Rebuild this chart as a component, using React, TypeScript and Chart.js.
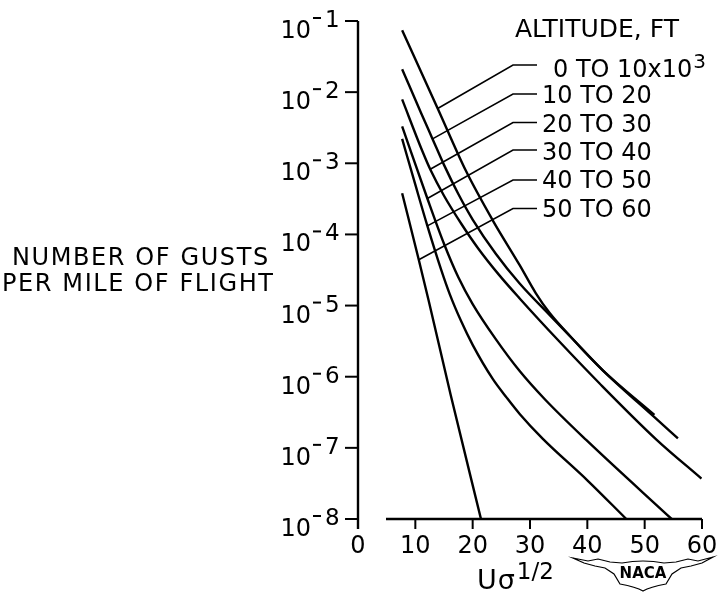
import { useEffect, useRef } from "react";
import { Chart, registerables } from "chart.js";

Chart.register(...registerables);

// ---- Data ----
const altitudeBands = ["0 TO 10x10", "10 TO 20", "20 TO 30", "30 TO 40", "40 TO 50", "50 TO 60"];

// U sigma^1/2 (x) and gusts per mile of flight (y)
const alt0to10X = [7.7, 13.9, 18.8, 23.5, 28.2, 31.0, 33.4, 37.0, 42.7, 51.7];
const alt0to10Y = [7.4e-2, 5.9e-3, 7.9e-4, 1.58e-4, 3.7e-5, 1.5e-5, 7.9e-6, 3.7e-6, 1.23e-6, 2.9e-7];

const alt10to20X = [7.7, 11.0, 13.0, 15.0, 17.5, 20.0, 24.0, 28.2, 33.4, 37.0, 42.7, 51.7, 55.8];
const alt10to20Y = [2.1e-2, 5.1e-3, 2.2e-3, 9.5e-4, 3.7e-4, 1.62e-4, 5.4e-5, 2.04e-5, 7.4e-6, 3.7e-6, 1.23e-6, 2.7e-7, 1.36e-7];

const alt20to30X = [7.7, 11.2, 12.7, 15.0, 18.1, 21.0, 24.6, 28.2, 35.0, 42.1, 52.0, 59.9];
const alt20to30Y = [7.9e-3, 1.5e-3, 7.9e-4, 3.5e-4, 1.38e-4, 6.3e-5, 2.7e-5, 1.26e-5, 3.2e-6, 8.1e-7, 1.32e-7, 3.7e-8];

const alt30to40X = [7.7, 12.1, 15.0, 17.5, 20.0, 24.0, 28.2, 32.5, 39.8, 54.7];
const alt30to40Y = [3.3e-3, 3.2e-4, 7.4e-5, 2.5e-5, 1.05e-5, 3.4e-6, 1.2e-6, 4.9e-7, 1.29e-7, 1e-8];

const alt40to50X = [7.7, 10.0, 12.1, 14.5, 16.0, 18.0, 20.0, 23.5, 26.0, 28.2, 32.2, 40.0, 46.8];
const alt40to50Y = [2.2e-3, 5.0e-4, 1.32e-4, 3.2e-5, 1.45e-5, 6.0e-6, 2.8e-6, 9.3e-7, 5.0e-7, 3.0e-7, 1.35e-7, 3.5e-8, 1e-8];

const alt50to60X = [7.7, 10.6, 12.3, 16.2, 21.45];
const alt50to60Y = [3.8e-4, 4.4e-5, 1.2e-5, 5.4e-7, 1e-8];

const seriesX = [alt0to10X, alt10to20X, alt20to30X, alt30to40X, alt40to50X, alt50to60X];
const seriesY = [alt0to10Y, alt10to20Y, alt20to30Y, alt30to40Y, alt40to50Y, alt50to60Y];

// where each label's leader line meets its curve (x value)
const leaderAnchorX = [13.9, 13.0, 12.6, 12.1, 12.1, 10.6];

const xTicks = [0, 10, 20, 30, 40, 50, 60];
const yTickExponents = [-1, -2, -3, -4, -5, -6, -7, -8];

const FONT = '"DejaVu Sans", "Liberation Sans", sans-serif';

function logInterp(xs: number[], ys: number[], x: number): number {
  for (let i = 0; i < xs.length - 1; i++) {
    if (x >= xs[i] && x <= xs[i + 1]) {
      const t = (x - xs[i]) / (xs[i + 1] - xs[i]);
      const l = Math.log10(ys[i]) + t * (Math.log10(ys[i + 1]) - Math.log10(ys[i]));
      return Math.pow(10, l);
    }
  }
  return ys[ys.length - 1];
}

const decorPlugin = {
  id: "decor",
  afterDraw(chart: any) {
    const ctx: CanvasRenderingContext2D = chart.ctx;
    const sx = chart.scales.x;
    const sy = chart.scales.y;
    const x0 = sx.getPixelForValue(0);
    const yTop = sy.getPixelForValue(1e-1);
    const yBase = sy.getPixelForValue(1e-8);
    const line = (a: number, b: number, c: number, d: number) => {
      ctx.beginPath();
      ctx.moveTo(a, b);
      ctx.lineTo(c, d);
      ctx.stroke();
    };
    ctx.save();
    ctx.strokeStyle = "#000";
    ctx.fillStyle = "#000";
    ctx.textBaseline = "alphabetic";

    // axes
    ctx.lineWidth = 2.4;
    line(x0, yTop, x0, yBase + 10);
    line(x0 + 28, yBase, sx.getPixelForValue(60), yBase);

    // x ticks + labels
    ctx.lineWidth = 2;
    ctx.font = `24px ${FONT}`;
    ctx.textAlign = "center";
    xTicks.forEach((v) => {
      const px = sx.getPixelForValue(v);
      if (v !== 0) line(px, yBase, px, yBase + 10);
      ctx.fillText(String(v), px, yBase + 34);
    });

    // y ticks + labels (10^n)
    yTickExponents.forEach((e) => {
      const py = sy.getPixelForValue(Math.pow(10, e));
      ctx.lineWidth = 2;
      line(x0 - 13, py, x0, py);
      ctx.font = `24px ${FONT}`;
      ctx.textAlign = "right";
      ctx.fillText("10", x0 - 47, py + 17);
      ctx.lineWidth = 2;
      line(x0 - 45, py - 3, x0 - 37, py - 3);
      ctx.font = `23px ${FONT}`;
      ctx.textAlign = "left";
      ctx.fillText(String(-e), x0 - 33, py + 6);
    });

    // y title
    ctx.font = `24px ${FONT}`;
    ctx.textAlign = "left";
    (ctx as any).letterSpacing = "1.6px";
    ctx.fillText("NUMBER OF GUSTS", 12, 265);
    ctx.fillText("PER MILE OF FLIGHT", 2, 291);
    (ctx as any).letterSpacing = "0px";

    // x title  U sigma ^1/2
    ctx.font = `27px ${FONT}`;
    ctx.fillText("U", 477, yBase + 70);
    const uW = ctx.measureText("U").width;
    ctx.fillText("σ", 477 + uW + 1, yBase + 70);
    const sW = ctx.measureText("σ").width;
    ctx.font = `23px ${FONT}`;
    ctx.fillText("1/2", 477 + uW + sW + 3, yBase + 60);

    // legend title and labels
    ctx.font = `25px ${FONT}`;
    ctx.fillText("ALTITUDE, FT", 515, 37);
    const rowBase = [77, 102.5, 131.5, 160, 188, 216.5];
    const rowMid = [65, 94, 122.5, 150, 180, 208.5];
    altitudeBands.forEach((txt, i) => {
      ctx.font = `24px ${FONT}`;
      const left = i === 0 ? 553 : 542;
      ctx.fillText(txt, left, rowBase[i]);
      if (i === 0) {
        const w = ctx.measureText(txt).width;
        ctx.font = `20px ${FONT}`;
        ctx.fillText("3", left + w + 1, rowBase[i] - 9);
      }
      const ax = leaderAnchorX[i];
      const apx = sx.getPixelForValue(ax);
      const apy = sy.getPixelForValue(logInterp(seriesX[i], seriesY[i], ax));
      ctx.lineWidth = 1.6;
      ctx.beginPath();
      ctx.moveTo(apx, apy);
      ctx.lineTo(513, rowMid[i]);
      ctx.lineTo(537, rowMid[i]);
      ctx.stroke();
    });

    // NACA emblem
    ctx.lineWidth = 1.2;
    ctx.beginPath();
    ctx.moveTo(573, 558);
    ctx.lineTo(588, 561);
    ctx.lineTo(598, 559);
    ctx.lineTo(610, 562);
    ctx.lineTo(622, 563);
    ctx.quadraticCurveTo(643, 559, 664, 563);
    ctx.lineTo(676, 562);
    ctx.lineTo(688, 559);
    ctx.lineTo(698, 561);
    ctx.lineTo(713, 557);
    ctx.lineTo(702, 563);
    ctx.lineTo(691, 566);
    ctx.lineTo(681, 568);
    ctx.lineTo(672, 574);
    ctx.lineTo(666, 584);
    ctx.quadraticCurveTo(650, 587, 643, 591);
    ctx.quadraticCurveTo(636, 587, 620, 584);
    ctx.lineTo(614, 574);
    ctx.lineTo(605, 568);
    ctx.lineTo(595, 566);
    ctx.lineTo(584, 563);
    ctx.closePath();
    ctx.stroke();
    ctx.font = `bold 15px ${FONT}`;
    ctx.textAlign = "center";
    ctx.fillText("NACA", 643, 578);

    ctx.restore();
  },
};

export default function App() {
  const ref = useRef<HTMLCanvasElement>(null);
  useEffect(() => {
    const canvas = ref.current;
    if (!canvas) return;
    const datasets = seriesX.map((xs, i) => ({
      label: altitudeBands[i],
      data: xs.map((x, j) => ({ x, y: seriesY[i][j] })),
      borderColor: "#000",
      borderWidth: 2.4,
      pointRadius: 0,
      fill: false,
      cubicInterpolationMode: "monotone" as const,
    }));
    const chart = new Chart(canvas, {
      type: "line",
      data: { datasets },
      options: {
        animation: false,
        responsive: false,
        devicePixelRatio: 1,
        layout: { padding: { left: 358, right: 18, top: 21, bottom: 73 } },
        plugins: { legend: { display: false }, tooltip: { enabled: false } },
        scales: {
          x: { type: "linear", min: 0, max: 60, display: false },
          y: { type: "logarithmic", min: 1e-8, max: 1e-1, display: false },
        },
      },
      plugins: [decorPlugin],
    });
    return () => chart.destroy();
  }, []);
  return (
    <div style={{ position: "absolute", left: 0, top: 0, width: 720, height: 592, background: "#fff" }}>
      <canvas ref={ref} width={720} height={592} style={{ display: "block" }} />
    </div>
  );
}
